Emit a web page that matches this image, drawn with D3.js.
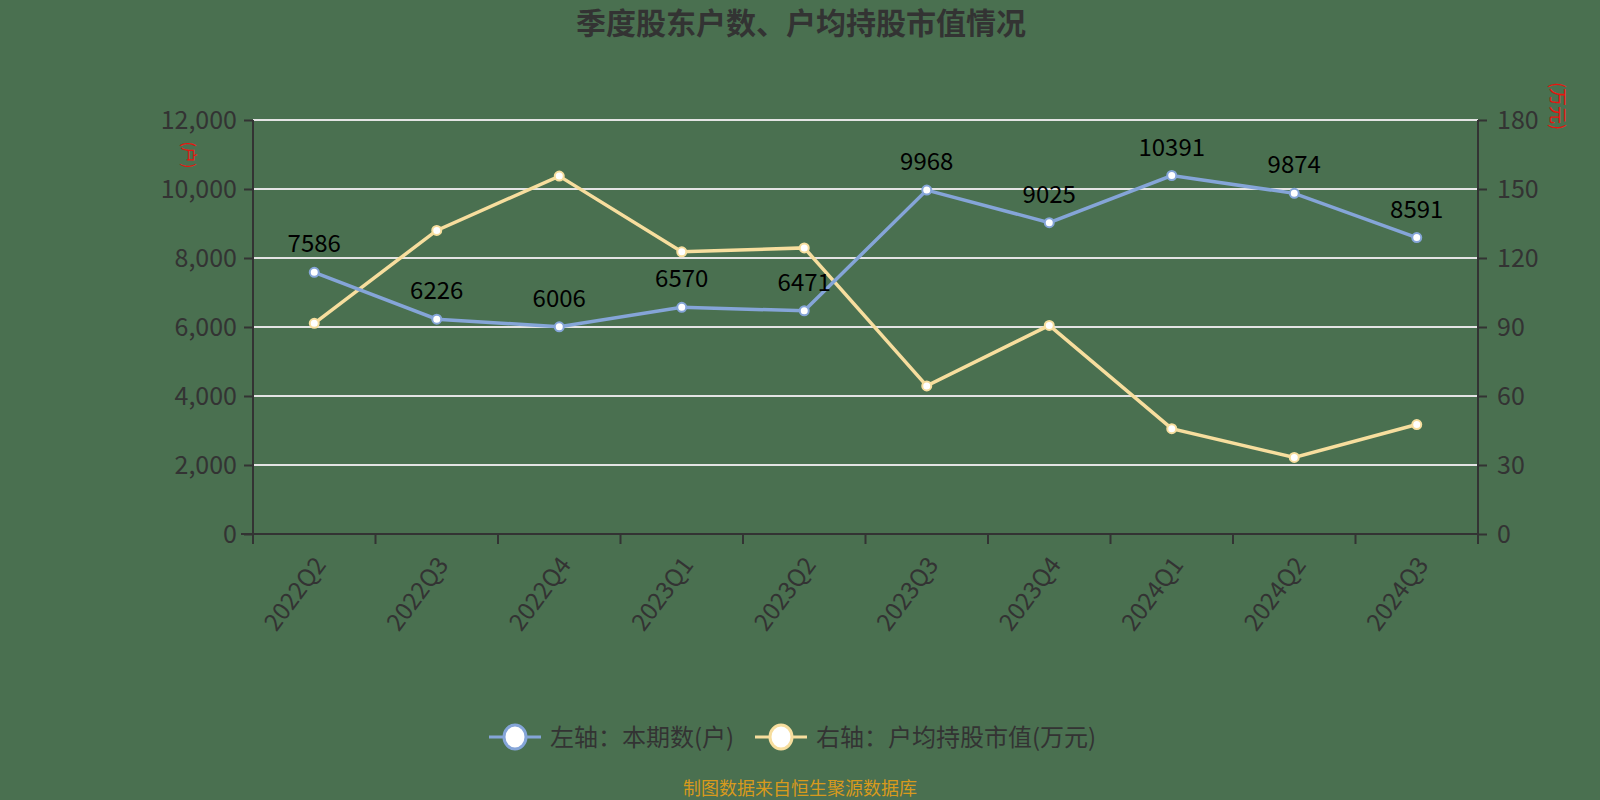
<!DOCTYPE html>
<html><head><meta charset="utf-8">
<script src="https://cdn.jsdelivr.net/npm/d3@7/dist/d3.min.js"></script>
<style>html,body{margin:0;padding:0;background:#4a7050;}svg{display:block;}</style>
</head><body>
<svg id="c" width="1600" height="800"></svg>
<script>
const categories = ["2022Q2","2022Q3","2022Q4","2023Q1","2023Q2","2023Q3","2023Q4","2024Q1","2024Q2","2024Q3"];
const holders = [7586,6226,6006,6570,6471,9968,9025,10391,9874,8591];
const avgValue = [91.6,132,155.6,122.7,124.4,64.4,90.7,45.8,33.3,47.6];
const leftTicks = [0,2000,4000,6000,8000,10000,12000];
const rightTicks = [0,30,60,90,120,150,180];
const titleText = "季度股东户数、户均持股市值情况";
const seriesNames = ["左轴：本期数(户)","右轴：户均持股市值(万元)"];
const footerText = "制图数据来自恒生聚源数据库";

const svg = d3.select("#c");
const W=1600,H=800;
const m={l:253,r:122,t:120,b:266};
const pw=W-m.l-m.r, ph=H-m.t-m.b;
svg.append("rect").attr("width",W).attr("height",H).attr("fill","#4a7050");
const font="'Noto Sans CJK SC','Noto Sans',sans-serif";

const x=d3.scaleBand().domain(categories).range([m.l,m.l+pw]);
const yL=d3.scaleLinear().domain([0,12000]).range([m.t+ph,m.t]);
const yR=d3.scaleLinear().domain([0,180]).range([m.t+ph,m.t]);

// grid
svg.append("g").selectAll("line").data(leftTicks.filter(d=>d>0)).join("line")
 .attr("x1",m.l).attr("x2",m.l+pw).attr("y1",d=>yL(d)).attr("y2",d=>yL(d))
 .attr("stroke","#e4e4e4").attr("stroke-width",2);

// axes
const axL=svg.append("g").attr("transform",`translate(${m.l},0)`)
 .call(d3.axisLeft(yL).tickValues(leftTicks).tickFormat(d3.format(",")).tickSize(9).tickPadding(7));
const axR=svg.append("g").attr("transform",`translate(${m.l+pw},0)`)
 .call(d3.axisRight(yR).tickValues(rightTicks).tickSize(9).tickPadding(10));
const axB=svg.append("g").attr("transform",`translate(0,${m.t+ph})`)
 .call(d3.axisBottom(x).tickSize(0).tickPadding(14));
// band boundary ticks
svg.append("g").selectAll("line").data(d3.range(categories.length+1)).join("line")
 .attr("x1",i=>m.l+i*x.step()).attr("x2",i=>m.l+i*x.step())
 .attr("y1",m.t+ph).attr("y2",m.t+ph+10).attr("stroke","#333").attr("stroke-width",2);
[axL,axR,axB].forEach(a=>{
  a.selectAll(".domain").attr("stroke","#333").attr("stroke-width",2);
  a.selectAll(".tick line").attr("stroke","#333").attr("stroke-width",2);
  a.selectAll("text").attr("fill","#333").style("font-size","25px").style("font-family",font);
});
axL.select(".domain").attr("d",`M0,${m.t}V${m.t+ph}`);
axR.select(".domain").attr("d",`M0,${m.t}V${m.t+ph}`);
axB.select(".domain").attr("d",`M${m.l-12},0H${m.l+pw}`);
axB.selectAll("text").style("font-size","24px").attr("text-anchor","end").attr("dy","0.35em")
 .attr("transform","translate(6,26) rotate(-53)").attr("y",0).attr("x",0);

// unit labels
svg.append("text").attr("transform",`translate(183,155) rotate(90)`).attr("text-anchor","middle")
 .attr("fill","#e8140f").style("font-size","16px").style("font-family",font).text("(户)");
svg.append("text").attr("transform",`translate(1551,106) rotate(90)`).attr("text-anchor","middle")
 .attr("fill","#e8140f").style("font-size","18px").style("font-family",font).text("(万元)");

const cx=d=>x(d)+x.bandwidth()/2;
const lineL=d3.line().x((d,i)=>cx(categories[i])).y(d=>yL(d));
const lineR=d3.line().x((d,i)=>cx(categories[i])).y(d=>yR(d));
const blue="#85a5d8", yellow="#f7de9e";

svg.append("path").attr("d",lineR(avgValue)).attr("fill","none").attr("stroke",yellow).attr("stroke-width",3.5);
svg.append("path").attr("d",lineL(holders)).attr("fill","none").attr("stroke",blue).attr("stroke-width",3.5);
svg.append("g").selectAll("circle").data(avgValue).join("circle")
 .attr("cx",(d,i)=>cx(categories[i])).attr("cy",d=>yR(d)).attr("r",4.5)
 .attr("fill","#fff").attr("stroke",yellow).attr("stroke-width",2);
svg.append("g").selectAll("circle").data(holders).join("circle")
 .attr("cx",(d,i)=>cx(categories[i])).attr("cy",d=>yL(d)).attr("r",4.5)
 .attr("fill","#fff").attr("stroke",blue).attr("stroke-width",2);
svg.append("g").selectAll("text").data(holders).join("text")
 .attr("x",(d,i)=>cx(categories[i])).attr("y",d=>yL(d)-20).attr("text-anchor","middle")
 .attr("fill","#000").style("font-size","24px").style("font-family",font).text(d=>d);

// title
svg.append("text").attr("x",801).attr("y",34).attr("text-anchor","middle").attr("fill","#333")
 .style("font-size","30px").style("font-weight","bold").style("font-family",font).text(titleText);

// legend
const leg=[{x:489,c:blue,t:seriesNames[0]},{x:755,c:yellow,t:seriesNames[1]}];
leg.forEach(l=>{
  const g=svg.append("g");
  g.append("line").attr("x1",l.x).attr("x2",l.x+52).attr("y1",737).attr("y2",737).attr("stroke",l.c).attr("stroke-width",3);
  g.append("ellipse").attr("cx",l.x+26).attr("cy",737).attr("rx",11).attr("ry",12).attr("fill","#fff").attr("stroke",l.c).attr("stroke-width",3);
  g.append("text").attr("x",l.x+61).attr("y",746).attr("fill","#333").style("font-size","24px").style("font-family",font).text(l.t);
});

svg.append("text").attr("x",800).attr("y",795).attr("text-anchor","middle").attr("fill","#d89a1c")
 .style("font-size","18px").style("font-family",font).text(footerText);
</script>
</body></html>
